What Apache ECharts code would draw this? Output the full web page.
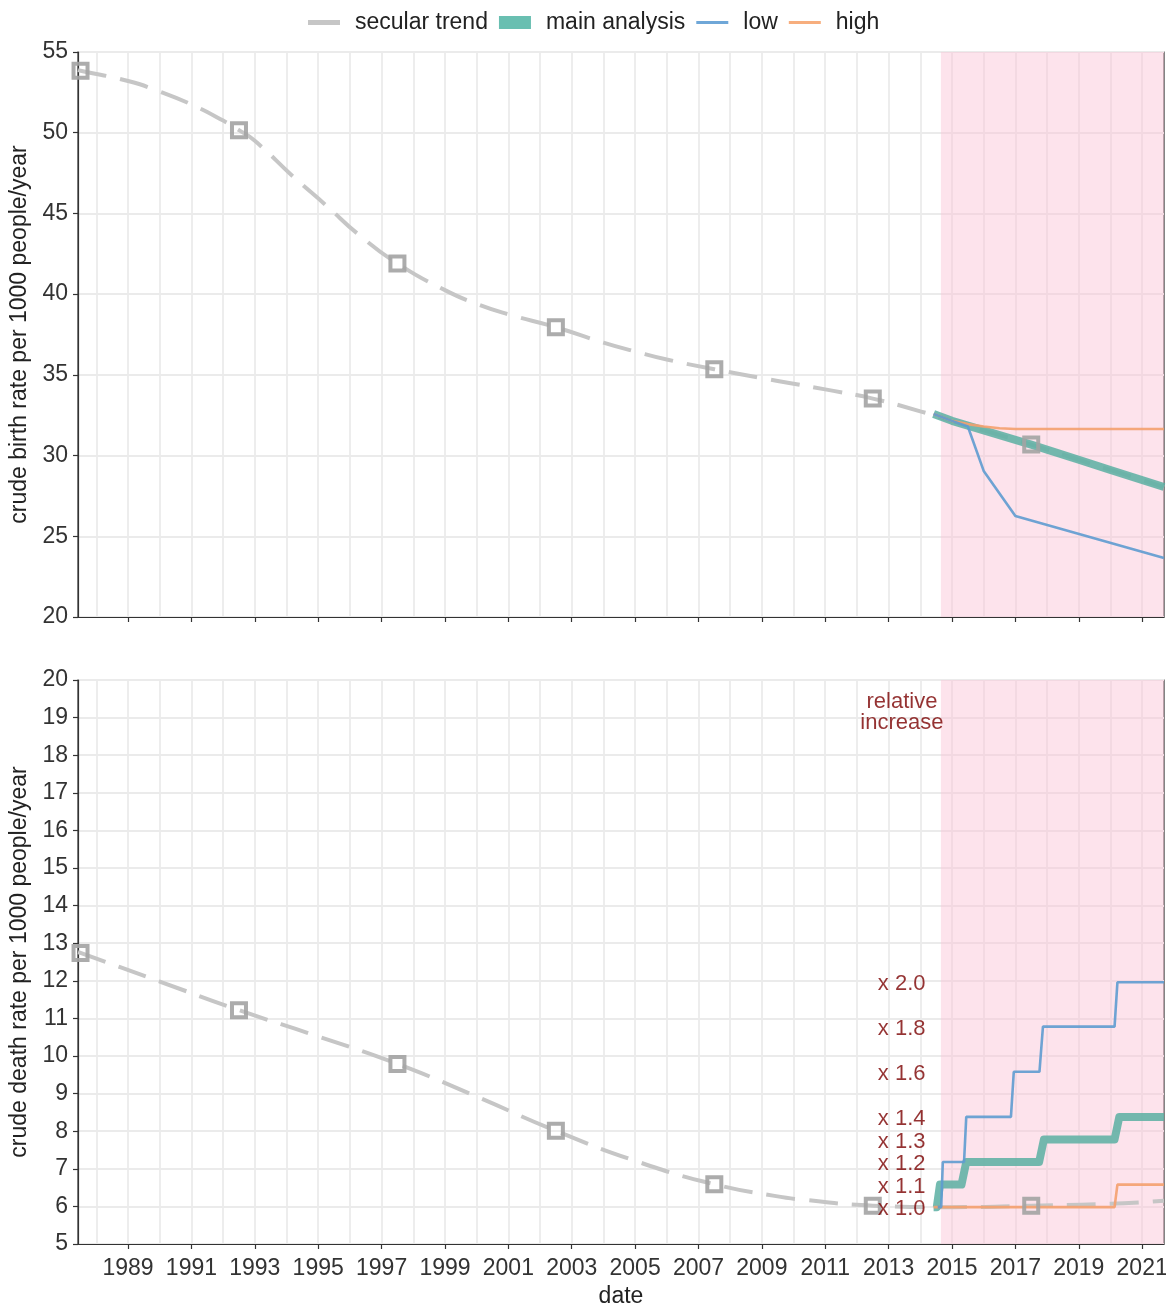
<!DOCTYPE html>
<html><head><meta charset="utf-8">
<script src="https://cdn.jsdelivr.net/npm/echarts@6/dist/echarts.min.js"></script>
<style>html,body{margin:0;padding:0;background:#fff}#c{width:1166px;height:1305px}</style>
</head><body><div id="c"></div>
<script>
// ---- axis ranges & ticks ----
const xMin = 1987.42, xMax = 2021.69;
const shadeStart = 2014.65;
const gridYears = [1988,1989,1990,1991,1992,1993,1994,1995,1996,1997,1998,1999,2000,2001,2002,2003,2004,2005,2006,2007,2008,2009,2010,2011,2012,2013,2014,2015,2016,2017,2018,2019,2020,2021];
const tickYears = [1989,1991,1993,1995,1997,1999,2001,2003,2005,2007,2009,2011,2013,2015,2017,2019,2021];

// ---- birth rate panel ----
const birthTrend = [[1987.42,53.88],[1987.5,53.84],[1989,53.2],[1990,52.55],[1991,51.75],[1992,50.75],[1992.5,50.16],[1993,49.5],[1994.2,47.3],[1995.25,45.5],[1996.3,43.65],[1997.5,41.9],[1999,40.25],[2000,39.4],[2001,38.75],[2002.5,37.95],[2004,37.0],[2005,36.45],[2006,35.95],[2007.5,35.35],[2009,34.8],[2010,34.45],[2011,34.1],[2012.5,33.53],[2014,32.74],[2015,32.15],[2016,31.56],[2017.5,30.68],[2019,29.74],[2020,29.11],[2021.69,28.05]];
const birthPoints = [[1987.5,53.84],[1992.5,50.16],[1997.5,41.9],[2002.5,37.95],[2007.5,35.35],[2012.5,33.53],[2017.5,30.68]];
const birthMain = [[2014.42,32.58],[2015,32.15],[2016,31.56],[2017.5,30.68],[2019,29.74],[2020,29.11],[2021.69,28.05]];
const birthLow = [[2014.42,32.58],[2015,32.15],[2015.5,31.8],[2016,29.05],[2017,26.25],[2021.69,23.65]];
const birthHigh = [[2014.42,32.58],[2015,32.15],[2015.5,31.95],[2016,31.8],[2016.5,31.69],[2017,31.65],[2021.69,31.65]];

// ---- death rate panel ----
const deathTrend = [[1987.42,12.76],[1987.5,12.74],[1990,11.98],[1992.5,11.22],[1995,10.52],[1997.5,9.79],[2000,8.92],[2002.5,8.01],[2005.15,7.17],[2007.5,6.59],[2009.4,6.28],[2010.4,6.17],[2012.5,6.02],[2015,5.98],[2017.5,6.02],[2020,6.07],[2021.69,6.15]];
const deathPoints = [[1987.5,12.74],[1992.5,11.22],[1997.5,9.79],[2002.5,8.01],[2007.5,6.59],[2012.5,6.02],[2017.5,6.02]];
const deathMain = [[2014.42,5.98],[2014.52,5.98],[2014.62,6.58],[2015.3,6.58],[2015.45,7.18],[2017.75,7.18],[2017.9,7.78],[2020.13,7.78],[2020.28,8.38],[2021.69,8.38]];
const deathLow = [[2014.55,5.98],[2014.66,5.98],[2014.71,7.18],[2015.38,7.18],[2015.45,8.38],[2016.86,8.38],[2016.95,9.58],[2017.76,9.58],[2017.87,10.78],[2020.13,10.78],[2020.22,11.96],[2021.69,11.96]];
const deathHigh = [[2014.42,5.98],[2020.13,5.98],[2020.22,6.58],[2021.69,6.58]];

// ---- annotations ----
const relTexts = ['x 1.0','x 1.1','x 1.2','x 1.3','x 1.4','x 1.6','x 1.8','x 2.0'];
const relY = [5.93,6.52,7.13,7.71,8.32,9.52,10.72,11.91];
const relX = 2014.18;
const relTitle = 'relative\nincrease';
const relTitlePos = [2013.42, 19.15];

const FONT = "'Liberation Sans', Arial, sans-serif";
const C_TREND = '#C6C6C6', C_PTS = '#A3A3A3', C_MAIN = '#5BAFA2', C_LOW = '#5E9BD0', C_HIGH = '#F4A06E';
const C_RED = '#7A0000';

function xAxes(gi, withLabels) {
  return [
    { gridIndex: gi, type: 'value', min: xMin, max: xMax,
      axisLine: {show: false}, axisTick: {show: false, customValues: gridYears},
      axisLabel: {show: false, customValues: gridYears},
      splitLine: {show: true, lineStyle: {color: '#EBEBEB', width: 1.8}} },
    { gridIndex: gi, type: 'value', min: xMin, max: xMax, position: 'bottom',
      axisLine: {show: true, onZero: false, lineStyle: {color: '#333', width: 1.2}},
      axisTick: {show: true, customValues: tickYears, length: 5, lineStyle: {color: '#333', width: 1.2}},
      axisLabel: {show: withLabels, customValues: tickYears, formatter: v => String(Math.round(v)),
        fontSize: 23, color: '#333', margin: 13, fontFamily: FONT},
      splitLine: {show: false},
      name: withLabels ? 'date' : '', nameLocation: 'middle', nameGap: 41,
      nameTextStyle: {fontSize: 23, color: '#222', fontFamily: FONT} }
  ];
}
function yAxis(gi, min, max, interval, name) {
  return { gridIndex: gi, type: 'value', min, max, interval,
    axisLine: {show: true, lineStyle: {color: '#333', width: 1.2}},
    axisTick: {show: true, length: 5, lineStyle: {color: '#333', width: 1.2}},
    axisLabel: {fontSize: 23, color: '#333', margin: 10, fontFamily: FONT},
    splitLine: {show: true, lineStyle: {color: '#EBEBEB', width: 1.8}},
    name, nameLocation: 'middle', nameRotate: 90, nameGap: 43,
    nameTextStyle: {fontSize: 23, color: '#222', fontFamily: FONT} };
}
const shade = {silent: true, itemStyle: {color: 'rgba(250,192,212,0.45)'}, data: [[{xAxis: shadeStart}, {xAxis: xMax}]]};

function panelSeries(xi, yi, trend, pts, main, low, high) {
  return [
    { name: 'secular trend', type: 'line', xAxisIndex: xi, yAxisIndex: yi, data: trend, smooth: true,
      showSymbol: false, symbol: 'none', color: C_TREND, z: 2,
      lineStyle: {color: C_TREND, width: 4, type: [29, 14], cap: 'butt'}, markArea: shade },
    { name: 'main analysis', type: 'line', xAxisIndex: xi, yAxisIndex: yi, data: main, smooth: false,
      showSymbol: false, symbol: 'none', color: C_MAIN, z: 3,
      lineStyle: {color: C_MAIN, width: 8, opacity: 0.85, cap: 'butt', join: 'round'} },
    { name: 'high', type: 'line', xAxisIndex: xi, yAxisIndex: yi, data: high, smooth: false,
      showSymbol: false, symbol: 'none', color: C_HIGH, z: 4,
      lineStyle: {color: C_HIGH, width: 2.6, opacity: 0.9} },
    { name: 'low', type: 'line', xAxisIndex: xi, yAxisIndex: yi, data: low, smooth: false,
      showSymbol: false, symbol: 'none', color: C_LOW, z: 4,
      lineStyle: {color: C_LOW, width: 2.6, opacity: 0.9} },
    { name: 'trend points', type: 'scatter', xAxisIndex: xi, yAxisIndex: yi, data: pts,
      symbol: 'rect', symbolSize: 14, z: 5,
      itemStyle: {color: 'rgba(0,0,0,0)', borderColor: C_PTS, borderWidth: 4, opacity: 0.9} }
  ];
}

const series = [].concat(
  panelSeries(0, 0, birthTrend, birthPoints, birthMain, birthLow, birthHigh),
  panelSeries(2, 1, deathTrend, deathPoints, deathMain, deathLow, deathHigh),
  [
    { name: 'rel labels', type: 'scatter', xAxisIndex: 2, yAxisIndex: 1, symbolSize: 1, z: 6,
      itemStyle: {color: 'rgba(0,0,0,0)'},
      data: relTexts.map((t, i) => ({name: t, value: [relX, relY[i]]})),
      label: {show: true, position: 'left', distance: 0, formatter: p => p.name,
        color: C_RED, fontSize: 22, fontFamily: FONT} },
    { name: 'rel title', type: 'scatter', xAxisIndex: 2, yAxisIndex: 1, symbolSize: 1, z: 6,
      itemStyle: {color: 'rgba(0,0,0,0)'},
      data: [{name: relTitle, value: relTitlePos}],
      label: {show: true, position: 'inside', formatter: p => p.name, align: 'center', verticalAlign: 'middle',
        lineHeight: 21, color: C_RED, fontSize: 22, fontFamily: FONT} }
  ]
);

const chart = echarts.init(document.getElementById('c'), null, {renderer: 'canvas'});
chart.setOption({
  backgroundColor: '#fff',
  animation: false,
  textStyle: {fontFamily: FONT},
  legend: {
    top: 6, left: 303, itemWidth: 32, itemHeight: 14, itemGap: 11, symbolKeepAspect: true,
    textStyle: {fontSize: 23, color: '#222', fontFamily: FONT, padding: [0, 0, 0, 10]},
    data: [
      {name: 'secular trend', icon: 'path://M0,0H32V5H0Z', itemStyle: {color: C_TREND, opacity: 1}},
      {name: 'main analysis', icon: 'path://M0,0H32V13H0Z', itemStyle: {color: '#69BFB1', opacity: 1}},
      {name: 'low', icon: 'path://M0,0H32V3H0Z', itemStyle: {color: '#6FA7D8', opacity: 1}},
      {name: 'high', icon: 'path://M0,0H32V3H0Z', itemStyle: {color: '#F7AE7E', opacity: 1}}
    ]
  },
  grid: [
    {left: 78, right: 2, top: 52, height: 565, show: true, borderColor: '#333', borderWidth: 1.2, backgroundColor: 'rgba(0,0,0,0)', containLabel: false, outerBoundsMode: 'none'},
    {left: 78, right: 2, top: 680, height: 564, show: true, borderColor: '#333', borderWidth: 1.2, backgroundColor: 'rgba(0,0,0,0)', containLabel: false, outerBoundsMode: 'none'}
  ],
  xAxis: [].concat(xAxes(0, false), xAxes(1, true)),
  yAxis: [
    yAxis(0, 20, 55, 5, 'crude birth rate per 1000 people/year'),
    yAxis(1, 5, 20, 1, 'crude death rate per 1000 people/year')
  ],
  series
});
</script>
</body></html>
